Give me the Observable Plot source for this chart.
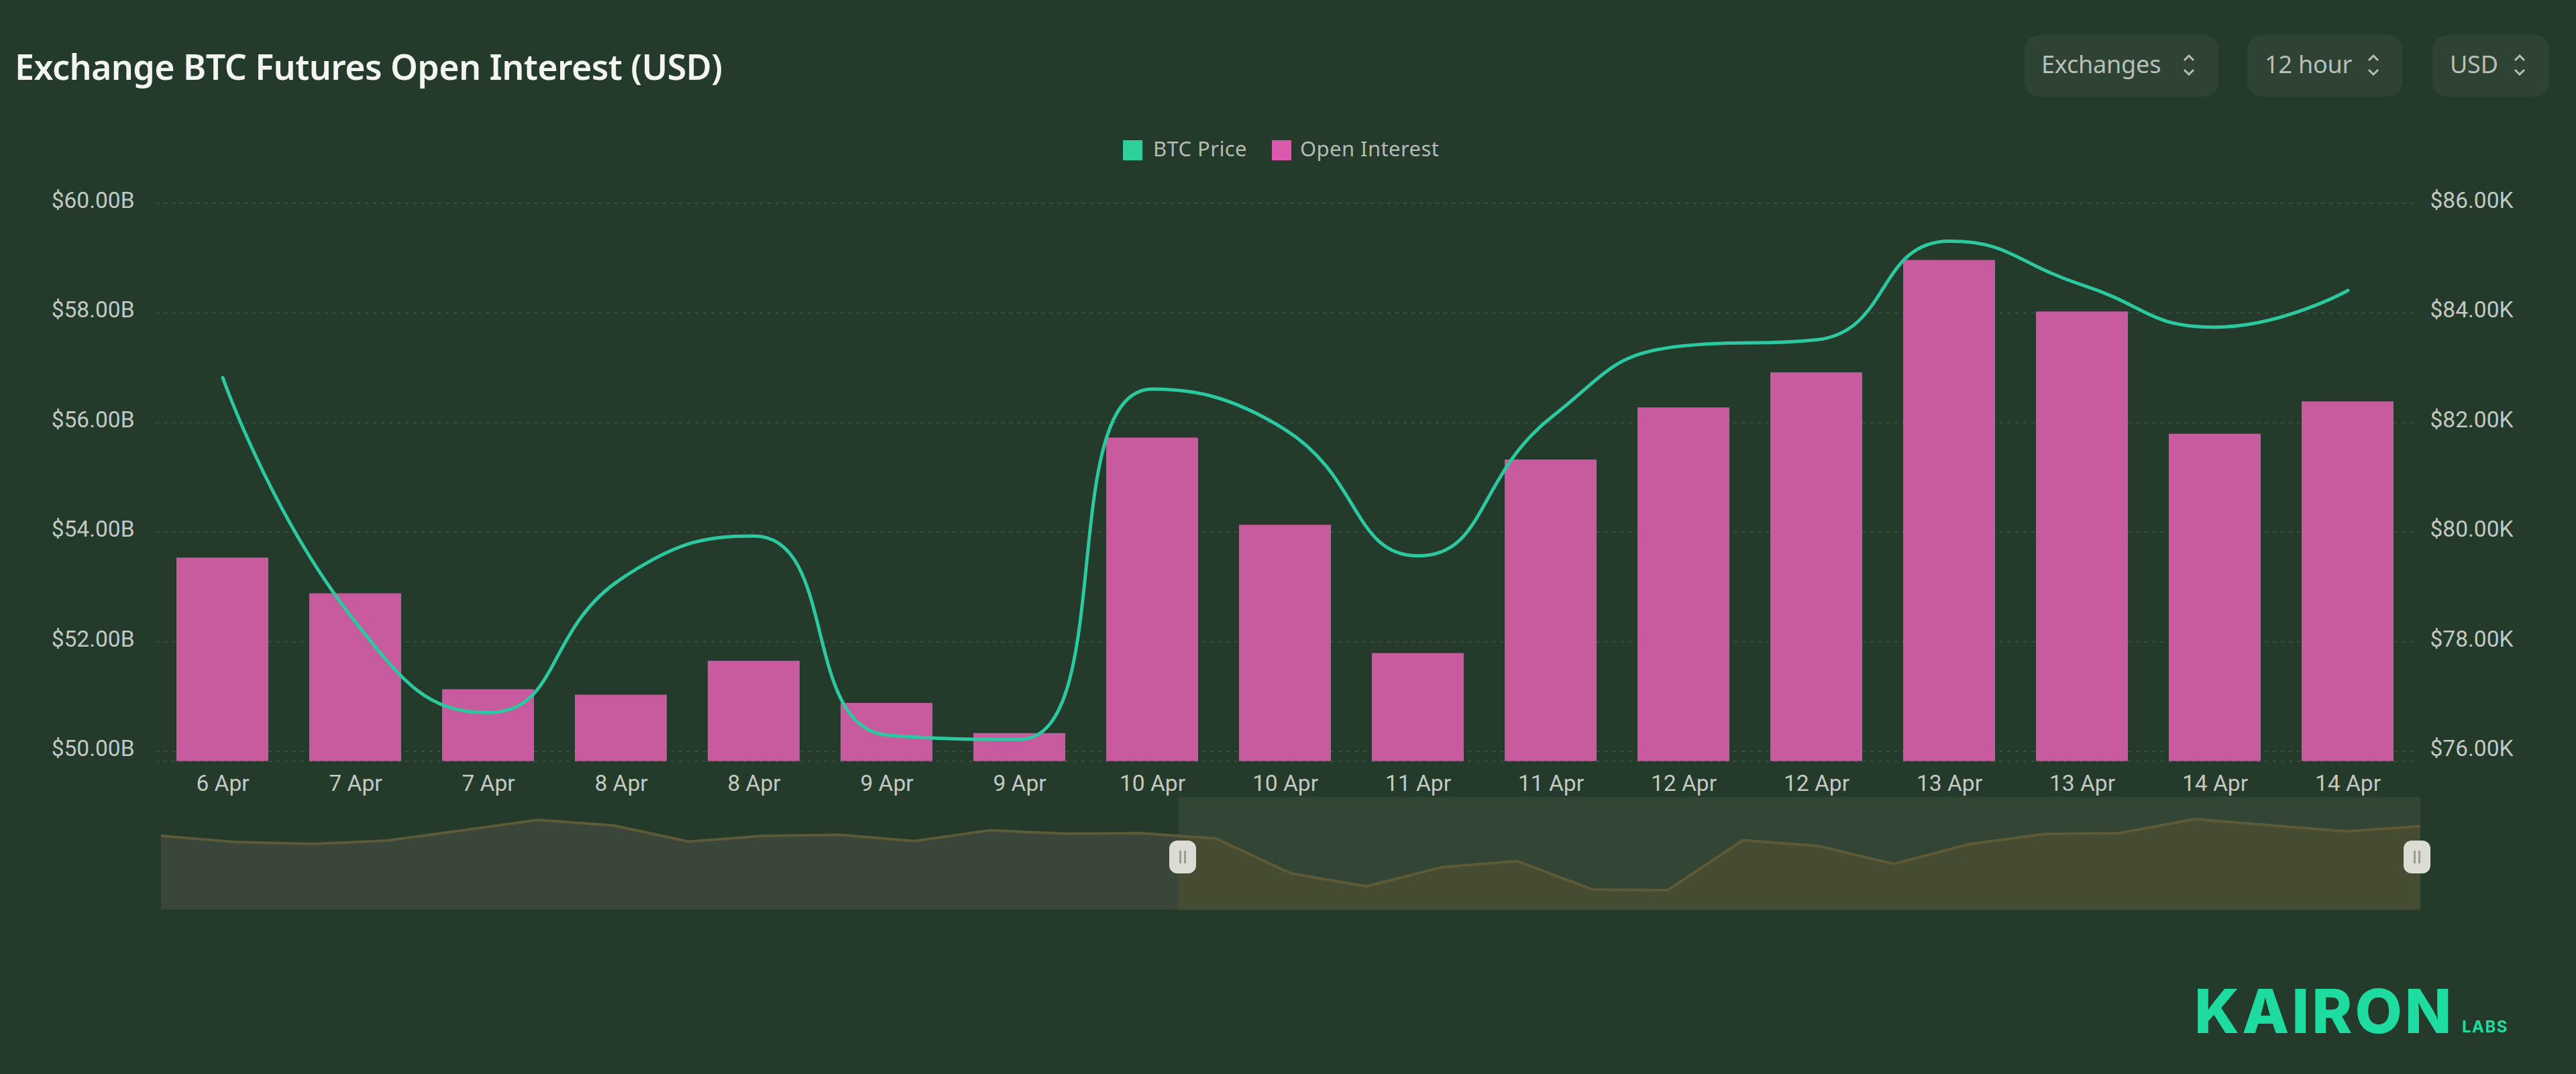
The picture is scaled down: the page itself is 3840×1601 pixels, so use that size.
<!DOCTYPE html>
<html>
<head>
<meta charset="utf-8">
<script src="https://cdn.jsdelivr.net/npm/d3@7"></script>
<script src="https://cdn.jsdelivr.net/npm/@observablehq/plot@0.6"></script>
<style>
  html, body { margin: 0; padding: 0; background: #243a2b; width: 3840px; height: 1601px; overflow: hidden; }
  #stage { position: relative; width: 3840px; height: 1601px; font-family: Roboto, sans-serif; }
  #stage > * { position: absolute; }
  #title { left: 22px; top: 68px; margin: 0; font: 600 52px/1.2 "Noto Sans", sans-serif; color: #f4f5f2; white-space: nowrap; letter-spacing: -.6px; }
  .btn { top: 52px; height: 92px; box-sizing: border-box; border-radius: 22px; background: #2f4335; color: #b9bfb8; font: 400 36px/88px "Noto Sans", sans-serif; white-space: nowrap; letter-spacing: -.2px; }
  .btn span { position: absolute; top: 0; }
  .btn svg { position: absolute; top: 26px; width: 22px; height: 38px; fill: none; stroke: #b9bfb8; stroke-width: 3; }
  .swatch { top: 209px; width: 29px; height: 30px; }
  .legend { top: 204px; font: 400 31px/34px "Noto Sans", sans-serif; color: #b4bcb4; white-space: nowrap; letter-spacing: .4px; }
  .handle { top: 1253px; width: 40px; height: 49px; border-radius: 12px; background: #dcdcd4; }
  .handle::before { content: ""; position: absolute; left: 15px; top: 15px; width: 3px; height: 19px; background: #9b9b94; box-shadow: 7px 0 0 #9b9b94; }
  #logo { left: 3271px; top: 1453px; font: 800 91px/1.2 Inter, sans-serif; color: #1edc9f; letter-spacing: 4px; white-space: nowrap; }
  #labs { left: 3670px; top: 1517px; font: 700 24px/1.2 Inter, sans-serif; color: #1edc9f; letter-spacing: 1.5px; white-space: nowrap; }
</style>
</head>
<body>
<div id="stage">
  <h1 id="title">Exchange BTC Futures Open Interest (USD)</h1>
</div>
<script>
// Data
const dateLabels = ["6 Apr","7 Apr","7 Apr","8 Apr","8 Apr","9 Apr","9 Apr","10 Apr","10 Apr","11 Apr","11 Apr","12 Apr","12 Apr","13 Apr","13 Apr","14 Apr","14 Apr"];
const openInterest = [53.53,52.88,51.13,51.03,51.65,50.88,50.33,55.72,54.13,51.79,55.32,56.27,56.91,58.96,58.02,55.79,56.38]; // $B
const btcPrice = [82.82,78.36,76.71,79.15,79.93,76.30,76.22,82.61,81.87,79.57,82.09,83.40,83.51,85.31,84.51,83.74,84.41]; // $K
const earlierPrice = [83.16,82.36,82.13,82.56,83.87,85.21,84.50,82.44,83.16,83.30,82.50,83.87,83.44,83.50]; // $K, overview only
const leftTicks = [50,52,54,56,58,60];
const buttons = [["Exchanges",3018,289,25,245],["12 hour",3350,231,26,188],["USD",3626,174,26,130]];
const legendItems = [["BTC Price","#2fcf9c",1674,1719],["Open Interest","#d95aac",1896,1938]];

const colors = {bar: "#c85a9e", line: "#2cc9a0", axis: "#c3c9c3", grid: "#384e3e"};
const priceOffset = 26; // right axis $76K–$86K sits on left axis $50B–$60B
const yBase = 49.82;
const smooth = 0.5;

// A d3 curve factory: clamped Bézier smoothing (control points never pass a neighbour)
function clampedSmooth(context) {
  let pts = [];
  return {
    areaStart() {}, areaEnd() {},
    lineStart() { pts = []; },
    point(x, y) { pts.push([+x, +y]); },
    lineEnd() {
      if (!pts.length) return;
      const clamp = (v, a, b) => Math.max(Math.min(v, Math.max(a, b)), Math.min(a, b));
      context.moveTo(pts[0][0], pts[0][1]);
      let cx0 = pts[0][0], cy0 = pts[0][1];
      for (let i = 1; i < pts.length; i++) {
        const [px, py] = pts[i - 1], [x, y] = pts[i];
        let cx1 = x, cy1 = y, nx0 = x, ny0 = y;
        if (i + 1 < pts.length) {
          const [nx, ny] = pts[i + 1];
          const lenPrev = Math.hypot(x - px, y - py), lenNext = Math.hypot(nx - x, ny - y);
          const ratio = lenNext / (lenNext + lenPrev);
          nx0 = clamp(x + (nx - px) * smooth * ratio, x, nx);
          ny0 = clamp(y + (ny - py) * smooth * ratio, y, ny);
          cx1 = clamp(x - (nx0 - x) * lenPrev / lenNext, px, x);
          cy1 = clamp(y - (ny0 - y) * lenPrev / lenNext, py, y);
          nx0 = x + (x - cx1) * lenNext / lenPrev;
          ny0 = y + (y - cy1) * lenNext / lenPrev;
        }
        context.bezierCurveTo(cx0, cy0, cx1, cy1, x, y);
        cx0 = nx0; cy0 = ny0;
      }
    }
  };
}

const stage = document.getElementById("stage");
const rows = openInterest.map((oi, i) => ({i, oi, price: btcPrice[i]}));

const main = Plot.plot({
  width: 3840, height: 1201,
  marginLeft: 232, marginRight: 241, marginTop: 302.5, marginBottom: 66.5,
  style: {background: "transparent", color: colors.axis, fontFamily: "Roboto, sans-serif", fontSize: "33.5px"},
  x: {domain: d3.range(dateLabels.length), paddingInner: 0.308, paddingOuter: 0.154},
  y: {domain: [yBase, 60]},
  marks: [
    Plot.gridY(leftTicks, {stroke: colors.grid, strokeOpacity: 1, strokeWidth: 2, strokeDasharray: "5,7"}),
    Plot.ruleY([yBase], {stroke: colors.grid, strokeWidth: 2, strokeDasharray: "5,7"}),
    Plot.axisX({tickSize: 0, tickPadding: 20, label: null, tickFormat: i => dateLabels[i]}),
    Plot.axisY(leftTicks, {anchor: "left", tickSize: 0, tickPadding: 32, dy: -4, label: null, tickFormat: t => `$${t}.00B`}),
    Plot.axisY(leftTicks, {anchor: "right", tickSize: 0, tickPadding: 23, dy: -4, label: null, tickFormat: t => `$${t + priceOffset}.00K`}),
    Plot.barY(rows, {x: "i", y1: () => yBase, y2: "oi", fill: colors.bar}),
    Plot.line(rows, {x: "i", y: d => d.price - priceOffset, stroke: colors.line, strokeWidth: 5, curve: clampedSmooth})
  ]
});
main.style.left = "0"; main.style.top = "0";
stage.appendChild(main);

// Overview strip: same price series, split where the selection begins
const fullPrice = earlierPrice.concat(btcPrice);
const overview = fullPrice.map((p, i) => ({i, p}));
const selectStart = 13.51, lastIdx = fullPrice.length - 1;
function strip(domain, left, width, bg, areaFill) {
  const p = Plot.plot({
    width, height: 168, margin: 0,
    style: {background: bg},
    x: {domain, axis: null},
    y: {domain: [73.68, 88.1], axis: null},
    marks: [
      Plot.areaY(overview, {x: "i", y1: () => 73.68, y2: "p", fill: areaFill, clip: true}),
      Plot.line(overview, {x: "i", y: "p", stroke: "#5d5a38", strokeWidth: 4, clip: true})
    ]
  });
  p.style.left = left + "px"; p.style.top = "1188px";
  stage.appendChild(p);
}
strip([0, selectStart], 240, 1517, "transparent", "#3a463a");
strip([selectStart, lastIdx], 1757, 1851, "#334535", "#454c32");

[1743, 3583].forEach(x => {
  const h = document.createElement("div");
  h.className = "handle"; h.style.left = x + "px";
  stage.appendChild(h);
});

// Selector buttons
buttons.forEach(([label, left, width, pad, chev]) => {
  const b = document.createElement("div");
  b.className = "btn";
  b.style.left = left + "px"; b.style.width = width + "px";
  b.innerHTML = `<span style="left:${pad}px">${label}</span><svg style="left:${chev - 11}px" viewBox="0 0 22 38"><path d="M4 12 L11 5 L18 12 M4 26 L11 33 L18 26"/></svg>`;
  stage.appendChild(b);
});

// Legend
legendItems.forEach(([label, color, sx, tx]) => {
  const s = document.createElement("div");
  s.className = "swatch"; s.style.left = sx + "px"; s.style.background = color;
  stage.appendChild(s);
  const t = document.createElement("div");
  t.className = "legend"; t.style.left = tx + "px"; t.textContent = label;
  stage.appendChild(t);
});

// Logo
const logo = document.createElement("div"); logo.id = "logo"; logo.textContent = "KAIRON"; stage.appendChild(logo);
const labs = document.createElement("div"); labs.id = "labs"; labs.textContent = "LABS"; stage.appendChild(labs);
</script>
</body>
</html>
